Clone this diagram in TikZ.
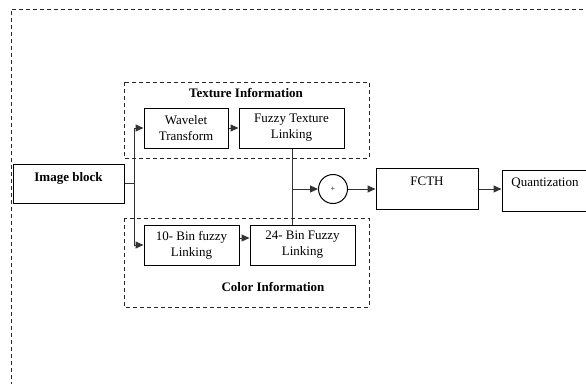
\documentclass[tikz,border=0pt]{standalone}
\usepackage{fontspec}
\setmainfont{Liberation Serif}
\usetikzlibrary{arrows.meta}
\begin{document}
\begin{tikzpicture}[x=1pt,y=-1pt,
  box/.style={draw=black,line width=1pt,rectangle,align=center,inner sep=3pt,
    font=\fontsize{13}{16}\selectfont},
  grp/.style={draw=black!85,line width=1pt,dash pattern=on 4pt off 3pt},
  ttl/.style={font=\fontsize{13}{16}\selectfont\bfseries,inner sep=0pt},
  conn/.style={draw=black!80,line width=1pt},
  arr/.style={conn,-{Triangle[length=8pt,width=7pt]}}]
\clip (0,0) rectangle (586,383);
% outer dashed frame
\draw[grp] (11,400) -- (11,9) -- (600,9);
% groups
\draw[grp] (124,82) rectangle (369,158);
\draw[grp] (124,218) rectangle (369,307);
\node[ttl] (tt) at (246,93) {Texture Information};
\node[ttl] (ct) at (273,287) {Color Information};
% nodes
\node[box,minimum width=111pt,text height=14pt,text depth=19pt,font=\fontsize{13}{16}\selectfont\bfseries] (img) at (68.5,183.5) {Image block};
\node[box,minimum width=84pt,minimum height=40pt] (wt) at (186,128) {Wavelet\\Transform};
\node[box,minimum width=105pt,minimum height=40pt] (ft) at (291.5,128) {Fuzzy Texture\\Linking};
\node[box,minimum width=95pt,minimum height=40pt] (b10) at (191.5,245) {10- Bin fuzzy\\Linking};
\node[box,minimum width=105pt,minimum height=40pt] (b24) at (302.5,245) {24- Bin Fuzzy\\Linking};
\node[draw=black,line width=1pt,circle,minimum size=29pt,inner sep=0pt,font=\fontsize{8}{8}\selectfont] (plus) at (333,189) {+};
\node[box,minimum width=102pt,text height=14.5pt,text depth=20.5pt] (fcth) at (427,188.5) {FCTH};
\node[box,minimum width=86pt,text height=13.5pt,text depth=21.5pt] (q) at (545,190.5) {Quantization};
% connectors
\coordinate (j) at (134,183.5);
\coordinate (m) at (292,189);
\draw[conn] (img.east) -- (j);
\draw[arr] (j) |- (wt.west);
\draw[arr] (j) |- (b10.west);
\draw[arr] (wt.east) -- (ft.west);
\draw[arr] ([yshift=7pt]b10.east) -- ([yshift=7pt]b24.west);
\draw[conn] (ft.south -| m) -- (b24.north -| m);
\draw[arr] (m) -- (plus.west);
\draw[arr] (plus.east) -- (plus.east -| fcth.west);
\draw[arr] (fcth.east |- plus) -- (q.west |- plus);
\end{tikzpicture}
\end{document}
